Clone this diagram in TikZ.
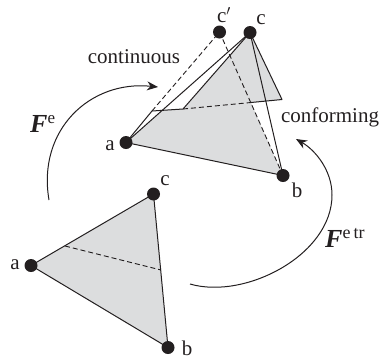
\documentclass[tikz,border=0pt]{standalone}
\usepackage{fontspec}
\setmainfont{Liberation Serif}
\definecolor{elemgray}{HTML}{DCDDDE}
\definecolor{ink}{HTML}{231F20}
\usetikzlibrary{arrows.meta}
\tikzset{
	vertex/.style={circle, fill=ink, inner sep=0pt, minimum size=13pt},
	lbl/.style={inner sep=0pt, text=ink},
	map/.style={-{Stealth[length=11pt,width=9pt]}, line width=1pt, ink},
	edge/.style={line width=1pt, ink},
	hidden/.style={line width=0.9pt, ink, dash pattern=on 5pt off 3pt},
}
\begin{document}
\begin{tikzpicture}[x=1pt, y=-1pt, line cap=butt, line join=round, font=\fontsize{21}{24}\selectfont]
	\useasboundingbox (0,0) rectangle (379,360);
	% deformed element
	\coordinate (Ua) at (126,142.5);
	\coordinate (Ub) at (283,175.5);
	\coordinate (Uc) at (250,32.5);
	\coordinate (Ud) at (219.5,32);
	\coordinate (P1) at (152,111);
	\coordinate (P2) at (183,109);
	\coordinate (P3) at (282,99.5);
	\coordinate (P4) at (251,102.5);
	\coordinate (P5) at (163,110.2);
	\fill[elemgray] (Ua) -- (P5) -- (P2) -- (Uc) -- (P3) -- (P4) -- (Ub) -- cycle;
	\draw[hidden] (P1) -- (Ud) -- (Ub);
	\draw[hidden] (P2) -- (P4);
	\draw[edge] (Ua) -- (Uc) -- (Ub) -- cycle;
	\draw[edge] (Ua) -- (P1) -- (P2) -- (Uc) -- (P3) -- (P4);
	% reference element
	\coordinate (La) at (31,265.5);
	\coordinate (Lb) at (168,347.5);
	\coordinate (Lc) at (153.5,194);
	\coordinate (Q1) at (65,246);
	\coordinate (Q2) at (161,270);
	\fill[elemgray] (La) -- (Lb) -- (Lc) -- cycle;
	\draw[edge] (La) -- (Lb) -- (Lc) -- cycle;
	\draw[hidden] (Q1) -- (Q2);
	\foreach \p in {Ua,Ub,Uc,Ud,La,Lb,Lc} {
		\node[vertex] (\p v) at (\p) {};
	}
	% maps
	\coordinate (M1) at (49,200);
	\coordinate (M2) at (158,87);
	\coordinate (M3) at (190,284);
	\coordinate (M4) at (332,195);
	\coordinate (M5) at (296,139);
	\draw[map] (M1) .. controls (37,130) and (90,80) .. (M2);
	\draw[map] (M3) .. controls (245,300) and (332,255) .. (M4) .. controls (332,170) and (315,150) .. (M5);
	% labels
	\node[lbl] (ua) at (110,146) {a};
	\node[lbl] (ub) at (297,190) {b};
	\node[lbl] (uc) at (261,20) {c};
	\node[lbl] (ud) at (224,15) {c$'$};
	\node[lbl] (la) at (15,265) {a};
	\node[lbl] (lb) at (187,348) {b};
	\node[lbl] (lc) at (165,181) {c};
	\node[lbl] (cont) at (134,57) {continuous};
	\node[lbl] (conf) at (330,117) {conforming};
	\node[lbl, anchor=base west] (fe) at (30,132) {\fontsize{26}{28}\selectfont\textbf{\textit{F}}\fontsize{17}{18}\selectfont\raisebox{9pt}{e}};
	\node[lbl, anchor=base west] (ft) at (325,247) {\fontsize{26}{28}\selectfont\textbf{\textit{F}}\fontsize{18}{18}\selectfont\raisebox{9pt}{e\,tr}};
\end{tikzpicture}
\end{document}
